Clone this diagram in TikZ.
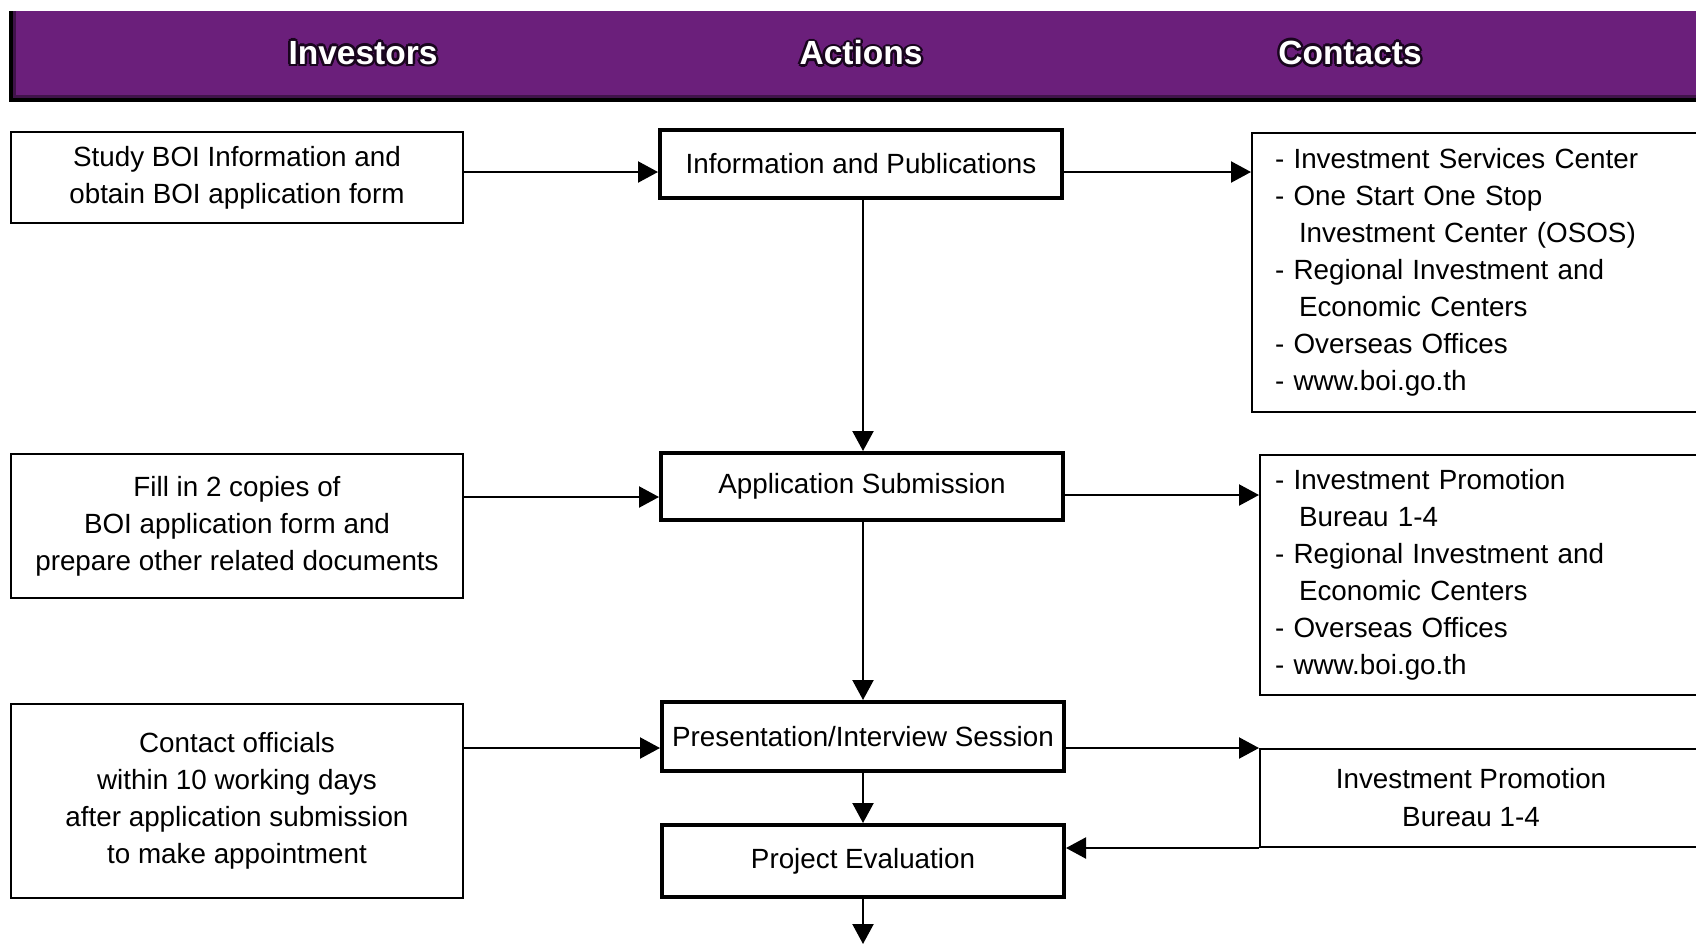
\documentclass[tikz,border=0pt]{standalone}
\usepackage{fontspec}
\setmainfont{Liberation Sans}
\usetikzlibrary{arrows.meta}
\definecolor{boipurple}{RGB}{107,31,123}
\definecolor{glowcol}{RGB}{25,5,30}
\begin{document}
\begin{tikzpicture}[x=1pt,y=-1pt,
  thinbox/.style={draw, line width=2pt, inner sep=0pt, align=center,
    font=\fontsize{27.8}{37}\selectfont},
  actbox/.style={draw, line width=4pt, inner sep=0pt, minimum width=402pt,
    font=\fontsize{27.8}{34}\selectfont},
  conbox/.style={draw, line width=2pt, anchor=north west, align=left,
    text width=440pt, inner ysep=0pt, font=\fontsize{27.8}{37}\selectfont},
  arr/.style={line width=2.2pt, -{Triangle[length=20pt,width=21pt]}},
  hdr/.style={font=\fontsize{33.5}{40}\selectfont\bfseries, inner sep=0pt}
]
\clip (0,0) rectangle (1696,945);
\fill[white] (0,0) rectangle (1696,945);

% header bar
\fill[black] (9,11) rectangle (1700,102);
\fill[boipurple!60!black] (13,11) rectangle (1700,98);
\fill[boipurple] (16,11) rectangle (1700,95);

\foreach \a in {0,45,...,315}{
  \node[hdr, text=glowcol] (gi\a) at ([shift={(\a:2.6)}]363,53) {Investors};
  \node[hdr, text=glowcol] (ga\a) at ([shift={(\a:2.6)}]861,53) {Actions};
  \node[hdr, text=glowcol] (gc\a) at ([shift={(\a:2.6)}]1350,53) {Contacts};
}
\node[hdr, text=white] (hinv) at (363,53) {Investors};
\node[hdr, text=white] (hact) at (861,53) {Actions};
\node[hdr, text=white] (hcon) at (1350,53) {Contacts};

% investors column
\node[thinbox, minimum width=452pt, minimum height=91pt] (inv1) at (237,177.5)
  {Study BOI Information and\\obtain BOI application form};
\node[thinbox, minimum width=452pt, minimum height=144pt] (inv2) at (237,526)
  {Fill in 2 copies of\\BOI application form and\\prepare other related documents};
\node[thinbox, minimum width=452pt, minimum height=194pt] (inv3) at (237,801)
  {Contact officials\\within 10 working days\\after application submission\\to make appointment};

% actions column
\node[actbox, minimum height=68pt] (act1) at (861,164) {Information and Publications};
\node[actbox, minimum height=67pt] (act2) at (862,486.5) {Application Submission};
\node[actbox, minimum height=69pt] (act3) at (863,736.5) {Presentation/Interview Session};
\node[actbox, minimum height=72pt] (act4) at (863,861) {Project Evaluation};

% contacts column
\node[conbox, minimum height=279pt, inner xsep=23pt] (con1) at (1251,132)
  {- Investment Services Center\\
   - One Start One Stop\\
   \hspace*{24pt}Investment Center (OSOS)\\
   - Regional Investment and\\
   \hspace*{24pt}Economic Centers\\
   - Overseas Offices\\
   - www.boi.go.th};
\node[conbox, minimum height=240pt, inner xsep=15pt] (con2) at (1259,454)
  {- Investment Promotion\\
   \hspace*{24pt}Bureau 1-4\\
   - Regional Investment and\\
   \hspace*{24pt}Economic Centers\\
   - Overseas Offices\\
   - www.boi.go.th};
\node[draw, line width=2pt, anchor=north west, minimum width=470pt,
  minimum height=98pt, inner sep=0pt] (con3) at (1259,748) {};
\node[align=center, inner sep=0pt, font=\fontsize{27.8}{38}\selectfont]
  (con3t) at (1471,798) {Investment Promotion\\Bureau 1-4};

% connectors
\coordinate (ya) at (0,172);
\coordinate (yb) at (0,497);
\coordinate (yc) at (0,495);
\coordinate (endp) at (863,944);

\draw[arr] (inv1.east |- ya) -- (act1.west |- ya);
\draw[arr] (act1.east |- ya) -- (con1.west |- ya);
\draw[arr] (inv2.east |- yb) -- (act2.west |- yb);
\draw[arr] (act2.east |- yc) -- (con2.west |- yc);
\draw[arr] (inv3.east |- con3.north west) -- (act3.west |- con3.north west);
\draw[arr] (act3.east |- con3.north west) -- (con3.north west);
\draw[arr] (con3.south west) -- (act4.east |- con3.south west);

\draw[arr] (act1.south -| endp) -- (act2.north -| endp);
\draw[arr] (act2.south -| endp) -- (act3.north -| endp);
\draw[arr] (act3.south -| endp) -- (act4.north -| endp);
\draw[arr] (act4.south -| endp) -- (endp);
\end{tikzpicture}
\end{document}
